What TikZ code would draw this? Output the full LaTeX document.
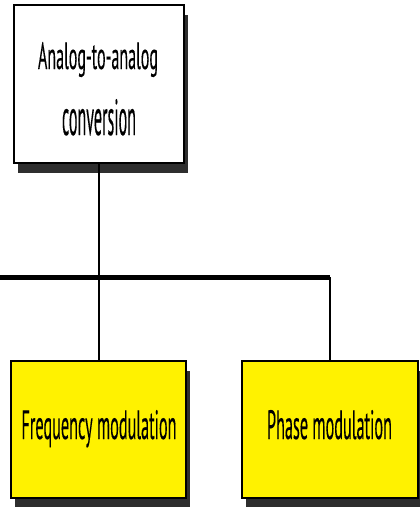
\documentclass[tikz,border=0pt]{standalone}
\usepackage{fontspec}
\setmainfont{PT Sans}
\newfontfamily\labelfont{PT Sans}[FakeBold=0.3]
\usetikzlibrary{shadows}
\definecolor{shadowgray}{HTML}{2E2E2E}
\tikzset{
  box/.style={draw=black, line width=2pt, rectangle, inner sep=0pt,
    drop shadow={shadow xshift=4pt, shadow yshift=-10pt, fill=shadowgray, opacity=1}},
  topbox/.style={box, fill=white, minimum width=170pt, minimum height=158pt},
  leafbox/.style={box, fill=yellow, minimum width=175pt, minimum height=137pt},
  label/.style={inner sep=0pt, anchor=base, text=black, font=\labelfont},
  link/.style={draw=black, line width=1.5pt},
  bus/.style={draw=black, line width=5pt}
}
\begin{document}
\begin{tikzpicture}[x=1pt, y=-1pt]
\useasboundingbox (0,0) rectangle (420,507);
% boxes
\node[topbox] (top) at (99,84) {};
\node[leafbox] (freq) at (98.5,429.5) {};
\node[leafbox, minimum width=176pt] (phase) at (330,429.5) {};
% texts
\node[label] (t1) at (98,69) {\resizebox{120pt}{27pt}{Analog-to-analog}};
\node[label] (t2) at (99,135) {\resizebox{74pt}{36pt}{conversion}};
\node[label] (tf) at (99,439) {\resizebox{155pt}{29pt}{Frequency modulation}};
\node[label] (tp) at (329.5,439) {\resizebox{125pt}{29pt}{Phase modulation}};
% connectors
\coordinate (busL) at (0,277);
\coordinate (busR) at (330,277);
\draw[link] (top.south) -- (top.south |- busL);
\draw[link] (freq.north -| top.south) -- (top.south |- busL);
\draw[link] (phase.north) -- (busR);
\draw[bus] (busL) -- (busR);
\end{tikzpicture}
\end{document}
